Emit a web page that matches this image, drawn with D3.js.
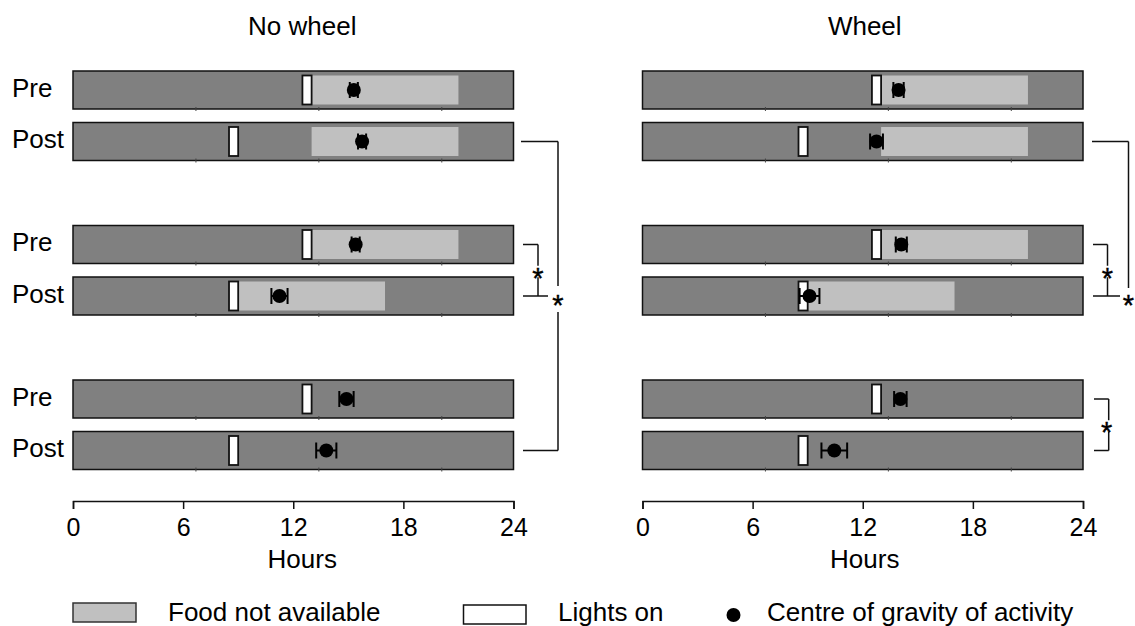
<!DOCTYPE html>
<html>
<head>
<meta charset="utf-8">
<script src="https://cdn.jsdelivr.net/npm/d3@7"></script>
<style>
  body { margin: 0; background: #fff; }
  svg { display: block; font-family: Arial, "Liberation Sans", sans-serif; }
</style>
</head>
<body>
<svg id="chart"></svg>
<script>
// rows, top to bottom (three Pre/Post pairs)
const rowLabels = ["Pre", "Post", "Pre", "Post", "Pre", "Post"];
const lightsOnStart = [12.5, 8.5, 12.5, 8.5, 12.5, 8.5];
const lightsOnEnd = [13, 9, 13, 9, 13, 9];
const foodOffStart = [13, 13, 13, 9, null, null];
const foodOffEnd = [21, 21, 21, 17, null, null];

// centre of gravity of activity (hours) and error
const noWheelCog = [15.3, 15.75, 15.4, 11.25, 14.9, 13.8];
const noWheelErr = [0.22, 0.22, 0.22, 0.44, 0.39, 0.55];
const wheelCog = [13.95, 12.75, 14.1, 9.1, 14.05, 10.45];
const wheelErr = [0.28, 0.35, 0.3, 0.54, 0.34, 0.7];

const hourTicks = [0, 6, 12, 18, 24];
const panelTitles = ["No wheel", "Wheel"];
const legendLabels = ["Food not available", "Lights on", "Centre of gravity of activity"];

const width = 1135;
const height = 626;
const barH = 38;
const pairStep = 51.5;

const svg = d3.select('#chart')
  .attr('width', width)
  .attr('height', height);

const groupTop = d3.scaleLinear().domain([0, 2]).range([71, 380]);
const rowTop = i => groupTop(Math.floor(i / 2)) + (i % 2) * pairStep;
const rowMid = i => rowTop(i) + barH / 2;

const panels = [
  {title: panelTitles[0], cog: noWheelCog, err: noWheelErr, left: 73, labels: true},
  {title: panelTitles[1], cog: wheelCog, err: wheelErr, left: 642.5, labels: false}
];

function star(g, x, y) {
  g.append('text')
    .attr('x', x).attr('y', y + 16.5)
    .attr('text-anchor', 'middle')
    .attr('font-size', 29)
    .attr('stroke', '#000')
    .attr('stroke-width', 0.4)
    .text('*');
}

function line(g, x1, y1, x2, y2) {
  g.append('line')
    .attr('x1', x1).attr('y1', y1).attr('x2', x2).attr('y2', y2)
    .attr('stroke', '#111').attr('stroke-width', 1.5);
}

panels.forEach((p, pi) => {
  const x = d3.scaleLinear().domain([0, 24]).range([p.left, p.left + 440.5]);
  // the bars carry their own faint tick marks, spaced differently from the axis
  const inner = d3.scaleLinear().domain([0, 21.5]).range(x.range());
  const g = svg.append('g');
  const mid = (x(0) + x(24)) / 2 + (pi === 0 ? 9 : 2);

  g.append('text')
    .attr('x', mid).attr('y', 35)
    .attr('text-anchor', 'middle')
    .attr('font-size', 26)
    .text(p.title);

  const rows = g.selectAll('g.row')
    .data(rowLabels.map((label, i) => ({label, i})))
    .join('g')
    .attr('class', 'row');

  rows.append('rect')
    .attr('x', x(0))
    .attr('y', d => rowTop(d.i))
    .attr('width', x(24) - x(0))
    .attr('height', barH)
    .attr('fill', '#808080')
    .attr('stroke', '#111')
    .attr('stroke-width', 1.5);

  rows.filter(d => foodOffStart[d.i] != null)
    .append('rect')
    .attr('x', d => x(foodOffStart[d.i]))
    .attr('y', d => rowTop(d.i) + 4.5)
    .attr('width', d => x(foodOffEnd[d.i]) - x(foodOffStart[d.i]))
    .attr('height', barH - 9)
    .attr('fill', '#c0c0c0');

  rows.each(function(d) {
    d3.select(this).selectAll('line.tk')
      .data([6, 12, 18])
      .join('line')
      .attr('class', 'tk')
      .attr('x1', t => inner(t)).attr('x2', t => inner(t))
      .attr('y1', rowTop(d.i) + barH - 2)
      .attr('y2', rowTop(d.i) + barH + 2)
      .attr('stroke', '#444')
      .attr('stroke-width', 1);
  });

  rows.append('rect')
    .attr('x', d => x(lightsOnStart[d.i]))
    .attr('y', d => rowTop(d.i) + 4.5)
    .attr('width', d => x(lightsOnEnd[d.i]) - x(lightsOnStart[d.i]))
    .attr('height', barH - 9)
    .attr('fill', '#fff')
    .attr('stroke', '#111')
    .attr('stroke-width', 1.8);

  // error bars
  rows.append('path')
    .attr('d', d => {
      const a = x(p.cog[d.i] - p.err[d.i]), b = x(p.cog[d.i] + p.err[d.i]), y = rowMid(d.i);
      return `M${a},${y - 8}V${y + 8}M${a},${y}H${b}M${b},${y - 8}V${y + 8}`;
    })
    .attr('fill', 'none')
    .attr('stroke', '#000')
    .attr('stroke-width', 2);

  rows.append('circle')
    .attr('cx', d => x(p.cog[d.i]))
    .attr('cy', d => rowMid(d.i))
    .attr('r', 7)
    .attr('fill', '#000');

  if (p.labels) {
    rows.append('text')
      .attr('x', 12)
      .attr('y', d => rowMid(d.i) + 6.5)
      .attr('font-size', 26)
      .text(d => d.label);
  }

  const axis = g.append('g')
    .attr('transform', 'translate(0,501)')
    .call(d3.axisBottom(x).tickValues(hourTicks).tickSize(8).tickSizeOuter(8).tickPadding(9));
  axis.selectAll('path, line').attr('stroke', '#111').attr('stroke-width', 1.5);
  axis.selectAll('text').attr('font-size', 25).attr('fill', '#000')
    .attr('font-family', 'Arial, "Liberation Sans", sans-serif');

  g.append('text')
    .attr('x', mid).attr('y', 568)
    .attr('text-anchor', 'middle')
    .attr('font-size', 26)
    .text('Hours');

  // significance brackets
  const xr = x(24);
  if (pi === 0) {
    const vx = xr + 44.5, sy = rowMid(3) + 2;
    line(g, xr + 7.5, rowMid(1), vx, rowMid(1));
    line(g, vx, rowMid(1), vx, sy - 12);
    line(g, vx, sy + 14, vx, rowMid(5));
    line(g, xr + 9.5, rowMid(5), vx, rowMid(5));
    star(g, vx, sy);

    const sx = xr + 24.5, my = (rowMid(2) + rowMid(3)) / 2 + 1;
    line(g, xr + 9.5, rowMid(2), sx, rowMid(2));
    line(g, sx, rowMid(2), sx, my - 5.5);
    line(g, sx, my + 6, sx, rowMid(3));
    line(g, xr + 9.5, rowMid(3), xr + 34.5, rowMid(3));
    star(g, sx, my);
  } else {
    const vx = xr + 45.5, sy = rowMid(3) + 2;
    line(g, xr + 9, rowMid(1), vx, rowMid(1));
    line(g, vx, rowMid(1), vx, sy - 10);
    star(g, vx, sy);

    const sx = xr + 24.5, my = (rowMid(2) + rowMid(3)) / 2 + 1;
    line(g, xr + 10, rowMid(2), sx, rowMid(2));
    line(g, sx, rowMid(2), sx, my - 5.5);
    line(g, sx, my + 6, sx, rowMid(3));
    line(g, xr + 10, rowMid(3), xr + 37, rowMid(3));
    star(g, sx, my);

    const tx = xr + 25.7, ty = (rowMid(4) + rowMid(5)) / 2 + 1;
    line(g, xr + 11, rowMid(4), tx, rowMid(4));
    line(g, tx, rowMid(4), tx, ty - 5.5);
    line(g, tx, ty + 6, tx, rowMid(5));
    line(g, xr + 11, rowMid(5), tx, rowMid(5));
    star(g, tx - 2, ty);
  }
});

// legend
const lg = svg.append('g').attr('font-size', 26);
lg.append('rect')
  .attr('x', 73).attr('y', 603).attr('width', 63).attr('height', 19)
  .attr('fill', '#c0c0c0').attr('stroke', '#333').attr('stroke-width', 1.5);
lg.append('text').attr('x', 168).attr('y', 620.5).text(legendLabels[0]);
lg.append('rect')
  .attr('x', 463.5).attr('y', 605).attr('width', 62.5).attr('height', 19)
  .attr('fill', '#fff').attr('stroke', '#111').attr('stroke-width', 1.5);
lg.append('text').attr('x', 558).attr('y', 620.5).text(legendLabels[1]);
lg.append('circle').attr('cx', 733.5).attr('cy', 615).attr('r', 7).attr('fill', '#000');
lg.append('text').attr('x', 767).attr('y', 620.5).text(legendLabels[2]);
</script>
</body>
</html>
